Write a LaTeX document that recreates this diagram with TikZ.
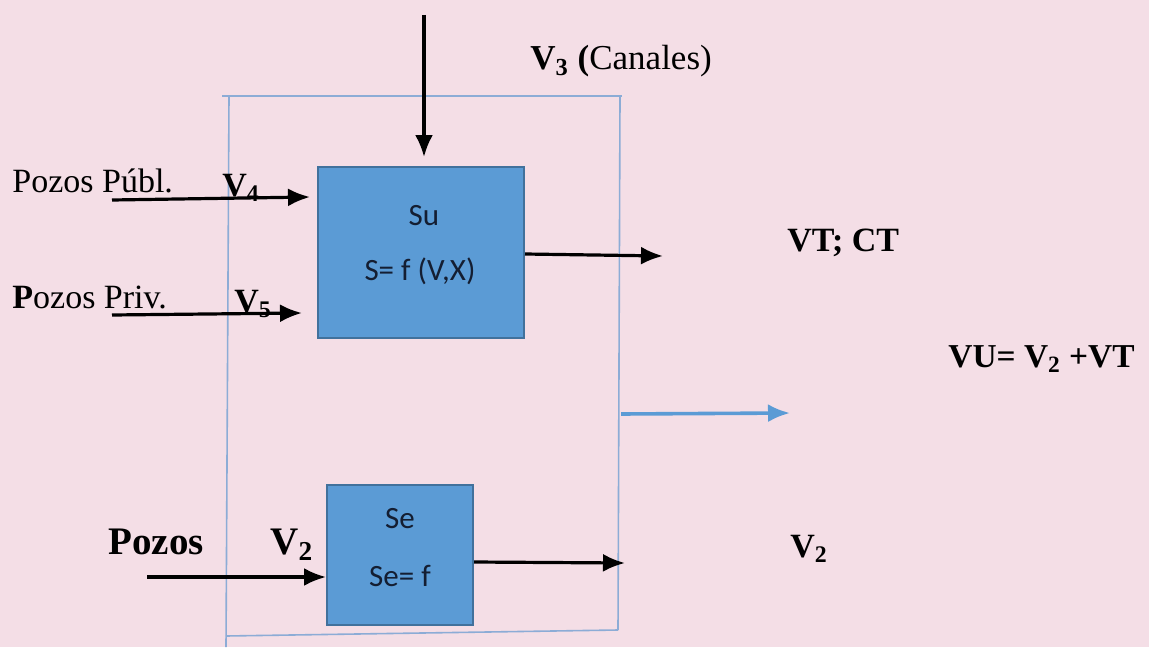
\documentclass[tikz,border=0pt]{standalone}
\usepackage{fontspec}
\setmainfont{Liberation Serif}
\newfontfamily\boxfont{Carlito}
\usetikzlibrary{arrows.meta}
\definecolor{bgpink}{RGB}{244,222,230}
\definecolor{boxfill}{RGB}{91,155,213}
\definecolor{boxline}{RGB}{65,113,156}
\definecolor{framecol}{RGB}{140,172,214}
\definecolor{boxtext}{RGB}{20,30,50}
\tikzset{
  sbox/.style={draw=boxline, line width=1pt, fill=boxfill, inner sep=0pt},
  flow/.style={draw=black, line width=1.6pt, -{Latex[length=11pt,width=9pt]}},
  blueflow/.style={draw=boxfill, line width=1.8pt, -{Latex[length=11pt,width=9pt]}},
  lbl/.style={font=\fontsize{17}{20}\selectfont, inner sep=0pt, anchor=base west},
  blbl/.style={lbl, font=\fontsize{17}{20}\selectfont\bfseries},
  bigblbl/.style={lbl, font=\fontsize{19.5}{22}\selectfont\bfseries},
  btxt/.style={font=\boxfont\fontsize{15.5}{18}\selectfont, text=boxtext, inner sep=0pt, anchor=base},
  frameline/.style={draw=framecol, line width=0.8pt}
}
\begin{document}
\begin{tikzpicture}[x=0.5pt,y=-0.5pt]
\fill[bgpink] (0,0) rectangle (1149,647);
\useasboundingbox (0,0) rectangle (1149,647);
% frame
\draw[frameline] (222,96) -- (622,96);
\draw[frameline] (229,96) -- (226,647);
\draw[frameline] (620,96) -- (618,630);
\draw[frameline] (226,636) -- (618,630);
\coordinate (fr) at (621,414);
% boxes
\node[sbox, minimum width=103pt, minimum height=85.5pt] (su) at (421,252.5) {};
\node[sbox, minimum width=73pt, minimum height=70pt] (se) at (400,555) {};
\node[btxt] (sut1) at (424,225) {Su};
\node[btxt] (sut2) at (420,280) {S= f (V,X)};
\node[btxt] (set1) at (400,528) {Se};
\node[btxt] (set2) at (400,586) {Se= f};
% labels
\node[lbl, font=\fontsize{17.5}{20}\selectfont] (v3) at (530,70) {\textbf{V\textsubscript{3} (}Canales)};
\node[lbl] (pp) at (12,192) {Pozos Públ.};
\node[blbl] (v4) at (222,196) {V\textsubscript{4}};
\node[lbl] (pv) at (12,308) {\textbf{P}ozos Priv.};
\node[blbl] (v5) at (234,312) {V\textsubscript{5}};
\node[blbl] (vt) at (787,251) {VT; CT};
\node[lbl, font=\fontsize{16.7}{20}\selectfont\bfseries] (vu) at (948,367) {VU= V\textsubscript{2} +VT};
\node[bigblbl] (pz) at (108,554) {Pozos};
\node[bigblbl] (v2a) at (270,554) {V\textsubscript{2}};
\node[blbl] (v2b) at (790,557) {V\textsubscript{2}};
% arrows
\coordinate (top) at (424,15);
\coordinate (a4) at (112,200);
\coordinate (a5) at (112,315);
\coordinate (apz) at (147,577);
\coordinate (suo) at (663,256);
\coordinate (seo) at (625,563);
\coordinate (bo) at (790,413);
\draw[flow, shorten >=4.5pt] (top) -- (top |- su.north);
\draw[flow] (a4) -- (310,197);
\draw[flow] (a5) -- (302,313);
\draw[flow] (apz) -- (se.west |- apz);
\draw[flow] (su.east |- 0,254) -- (suo);
\draw[flow] (se.east |- 0,562) -- (seo);
\draw[blueflow] (fr) -- (bo);
\end{tikzpicture}
\end{document}
